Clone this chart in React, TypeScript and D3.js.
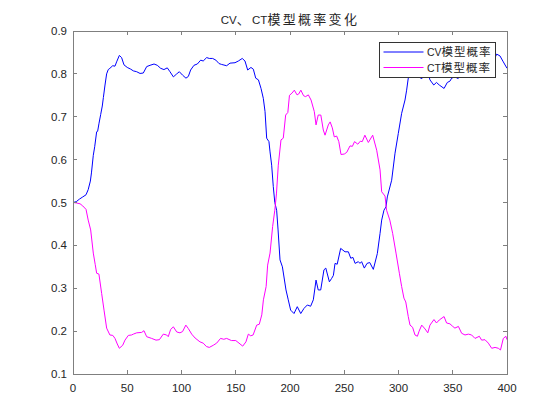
import React from "react";
import * as d3 from "d3";

const titleParts = [
  { t: "CV", cjk: false },
  { t: "、", cjk: true },
  { t: "CT", cjk: false },
  { t: "模型概率变化", cjk: true },
];
const seriesNames = ["CV模型概率", "CT模型概率"];
const seriesColors = ["#0000ff", "#ff00ff"];
const xTicks = [0, 50, 100, 150, 200, 250, 300, 350, 400];
const yTicks = [0.1, 0.2, 0.3, 0.4, 0.5, 0.6, 0.7, 0.8, 0.9];

const cvData: [number, number][] = [
  [0, 0.5], [3, 0.502], [6, 0.508], [9, 0.513], [12, 0.518], [14, 0.53], [16, 0.55], [17, 0.569],
  [18.7, 0.61], [20, 0.63], [21.8, 0.665], [22.7, 0.666], [24, 0.685], [25.5, 0.705], [27, 0.725],
  [28, 0.745], [29.5, 0.774], [31, 0.8], [32.5, 0.81], [34, 0.813], [36.6, 0.819], [38.7, 0.818],
  [40.2, 0.828], [42.7, 0.843], [44.8, 0.838], [47, 0.821], [50, 0.815], [53.2, 0.811], [55.6, 0.807],
  [58.7, 0.805], [61.8, 0.801], [64.8, 0.802], [67.9, 0.817], [71, 0.82], [74.7, 0.823], [77.7, 0.82],
  [80.8, 0.813], [83.8, 0.81], [86.9, 0.814], [89.4, 0.805], [92.5, 0.793], [95.6, 0.8], [98, 0.805],
  [101, 0.797], [104.1, 0.79], [106.3, 0.794], [108.4, 0.809], [111.5, 0.82], [114.6, 0.823],
  [117.7, 0.832], [120, 0.83], [123.2, 0.838], [125.6, 0.836], [128.7, 0.836], [131.7, 0.832],
  [134.6, 0.824], [137, 0.822], [141.6, 0.819], [144.7, 0.825], [149.3, 0.826], [152.4, 0.83],
  [156, 0.836], [158.5, 0.83], [161, 0.809], [164, 0.815], [166.2, 0.811], [168.4, 0.79],
  [170.9, 0.786], [173.3, 0.766], [175.4, 0.743], [177, 0.712], [178.5, 0.65], [180.6, 0.642],
  [181.6, 0.618], [183.1, 0.587], [184.6, 0.537], [186, 0.5], [187.7, 0.482], [189, 0.436],
  [190.8, 0.366], [193, 0.35], [196.3, 0.296], [198.4, 0.273], [200.6, 0.249], [203.7, 0.241],
  [206.7, 0.257], [209.9, 0.241], [212.9, 0.253], [216, 0.261], [219, 0.258], [221.5, 0.273],
  [224, 0.319], [226, 0.296], [228.3, 0.296], [231.3, 0.343], [233, 0.347], [236.3, 0.315],
  [238.4, 0.323], [240, 0.33], [241.5, 0.358], [243.5, 0.356], [246.7, 0.393], [250.7, 0.385],
  [253.8, 0.385], [256, 0.37], [258, 0.372], [260, 0.358], [263, 0.362], [264.5, 0.358], [266, 0.362],
  [268.5, 0.347], [271, 0.358], [273.5, 0.36], [276.8, 0.344], [280.5, 0.381], [283, 0.428],
  [284.5, 0.459], [286.6, 0.482], [288.5, 0.49], [289.7, 0.513], [293.7, 0.552], [296.8, 0.615],
  [299.8, 0.661], [302.9, 0.708], [306, 0.739], [307.5, 0.762], [309, 0.79], [312, 0.795],
  [315, 0.81], [317.4, 0.812], [319, 0.8], [321, 0.788], [324.4, 0.797], [327, 0.804], [329, 0.786],
  [332.5, 0.774], [335, 0.78], [337.6, 0.774], [342, 0.766], [345, 0.78], [347.4, 0.783], [349, 0.79],
  [352, 0.793], [355, 0.789], [358, 0.805], [361, 0.809], [364, 0.807], [367, 0.809], [370.5, 0.817],
  [374.5, 0.812], [376.6, 0.821], [379.7, 0.82], [382.8, 0.828], [385.9, 0.84], [389, 0.838],
  [390.5, 0.846], [393.5, 0.842], [396.6, 0.828], [400, 0.813],
];

const ctData: [number, number][] = [
  [0, 0.5], [3, 0.499], [6.5, 0.497], [9, 0.492], [12, 0.484], [14, 0.459], [16.3, 0.436],
  [18.7, 0.382], [20.5, 0.355], [21.8, 0.335], [23.9, 0.333], [26.4, 0.288], [28.6, 0.249], [31, 0.207],
  [34, 0.191], [36.7, 0.19], [38.7, 0.183], [40.8, 0.17], [42.7, 0.16], [45.8, 0.167], [47.9, 0.179],
  [51, 0.19], [54, 0.191], [55.6, 0.193], [58.7, 0.196], [63.3, 0.197], [65.4, 0.201], [67.9, 0.187],
  [72.5, 0.183], [76.5, 0.179], [79.6, 0.18], [83.2, 0.193], [86.3, 0.191], [87.8, 0.187], [90, 0.204],
  [92.5, 0.21], [95.6, 0.198], [98.6, 0.196], [101, 0.199], [104, 0.214], [106.3, 0.206], [109.4, 0.193],
  [112.5, 0.184], [117, 0.175], [120, 0.172], [123, 0.164], [125.6, 0.162], [129.3, 0.167],
  [132.4, 0.172], [136, 0.183], [139, 0.181], [141.6, 0.183], [146, 0.178], [150, 0.178], [153, 0.172],
  [156.4, 0.165], [159.4, 0.175], [161.6, 0.193], [163.8, 0.189], [166, 0.191], [169.3, 0.214],
  [171.7, 0.216], [174, 0.238], [175.5, 0.273], [178, 0.304], [179.4, 0.354], [181.6, 0.382],
  [184, 0.444], [186, 0.482], [187.5, 0.52], [189.2, 0.587], [191.7, 0.646], [193.8, 0.65], [196, 0.704],
  [198, 0.71], [199.5, 0.75], [201.8, 0.755], [204, 0.762], [206.5, 0.751], [208, 0.753], [210, 0.762],
  [212.5, 0.749], [214.4, 0.747], [216.9, 0.751], [219.4, 0.739], [222.4, 0.712], [224, 0.681],
  [226, 0.704], [228.4, 0.704], [230.7, 0.669], [232.3, 0.657], [235.3, 0.681], [237, 0.688],
  [239, 0.674], [240.8, 0.653], [243, 0.655], [245, 0.642], [247, 0.612], [250, 0.613], [252.3, 0.617],
  [255.3, 0.632], [257.5, 0.631], [259.5, 0.642], [262.5, 0.636], [264.8, 0.643], [266.6, 0.642],
  [269, 0.657], [272.2, 0.64], [276.2, 0.657], [279.9, 0.622], [283, 0.576], [284.5, 0.525],
  [287.6, 0.515], [289, 0.482], [292, 0.459], [294.6, 0.428], [297.7, 0.382], [300.8, 0.335],
  [302.9, 0.304], [305, 0.277], [306.7, 0.268], [309, 0.234], [310.6, 0.214], [313, 0.209],
  [315.2, 0.191], [317.4, 0.188], [319, 0.2], [321.4, 0.214], [324.5, 0.205], [327, 0.196], [329, 0.214],
  [332.7, 0.227], [335, 0.219], [337.6, 0.226], [342, 0.234], [344.3, 0.219], [347.4, 0.217],
  [350, 0.211], [352, 0.207], [355.2, 0.211], [358.2, 0.195], [361.3, 0.191], [364.4, 0.193],
  [367.4, 0.191], [370.5, 0.183], [374.5, 0.188], [376.6, 0.179], [379.7, 0.18], [382.8, 0.172],
  [385.9, 0.16], [389, 0.162], [392, 0.16], [394, 0.156], [396.6, 0.183], [399, 0.188], [400, 0.18],
];

const W = 560;
const H = 420;
const M = { left: 73, right: 507, top: 31, bottom: 374 };
const LATIN = "'Liberation Sans', Arial, Helvetica, sans-serif";
const CJK = "'Noto Sans CJK SC', 'Noto Sans', sans-serif";
const AXIS = "#7f7f7f";
const TEXT = "#262626";

export default function App() {
  const x = d3.scaleLinear().domain([0, 400]).range([M.left, M.right]);
  const y = d3.scaleLinear().domain([0.1, 0.9]).range([M.bottom, M.top]);
  const line = d3
    .line<[number, number]>()
    .x((d) => x(d[0]))
    .y((d) => y(d[1]));
  const series = [cvData, ctData];
  const tickLen = 4;

  const legX = 379.5;
  const legY = 42.5;
  const legW = 116;
  const legH = 35;

  return (
    <svg
      width={W}
      height={H}
      style={{ position: "absolute", left: 0, top: 0, background: "#fff" }}
    >
      <rect x={0} y={0} width={W} height={H} fill="#fff" />
      <defs>
        <clipPath id="plotclip">
          <rect x={M.left} y={M.top} width={M.right - M.left} height={M.bottom - M.top} />
        </clipPath>
      </defs>

      {/* data */}
      <g clipPath="url(#plotclip)">
        {series.map((s, i) => (
          <path
            key={i}
            d={line(s) || ""}
            fill="none"
            stroke={seriesColors[i]}
            strokeWidth={1}
            strokeLinejoin="round"
          />
        ))}
      </g>

      {/* axes box */}
      <rect
        x={M.left}
        y={M.top}
        width={M.right - M.left}
        height={M.bottom - M.top}
        fill="none"
        stroke={AXIS}
        strokeWidth={1}
        shapeRendering="crispEdges"
      />

      {/* ticks */}
      <g stroke={AXIS} strokeWidth={1} shapeRendering="crispEdges">
        {xTicks.map((t) => (
          <g key={"xt" + t}>
            <line x1={x(t)} x2={x(t)} y1={M.bottom} y2={M.bottom - tickLen} />
            <line x1={x(t)} x2={x(t)} y1={M.top} y2={M.top + tickLen} />
          </g>
        ))}
        {yTicks.map((t) => (
          <g key={"yt" + t}>
            <line x1={M.left} x2={M.left + tickLen} y1={y(t)} y2={y(t)} />
            <line x1={M.right} x2={M.right - tickLen} y1={y(t)} y2={y(t)} />
          </g>
        ))}
      </g>

      {/* tick labels */}
      <g fill={TEXT} fontFamily={LATIN} fontSize={11.5}>
        {xTicks.map((t) => (
          <text key={"xl" + t} x={x(t)} y={M.bottom + 18} textAnchor="middle">
            {String(t)}
          </text>
        ))}
        {yTicks.map((t) => (
          <text key={"yl" + t} x={M.left - 6} y={y(t) + 4} textAnchor="end">
            {t.toFixed(1)}
          </text>
        ))}
      </g>

      {/* title */}
      <text x={(M.left + M.right) / 2} y={24} textAnchor="middle" fill={TEXT}>
        {titleParts.map((p, i) => (
          <tspan
            key={i}
            fontFamily={p.cjk ? CJK : LATIN}
            fontSize={p.cjk ? 13 : 11.5}
            letterSpacing={p.cjk ? 2.3 : 0}
          >
            {p.t}
          </tspan>
        ))}
      </text>

      {/* legend */}
      <rect
        x={legX}
        y={legY}
        width={legW}
        height={legH}
        fill="#fff"
        stroke="#333"
        strokeWidth={1}
        shapeRendering="crispEdges"
      />
      {seriesNames.map((name, i) => {
        const cy = legY + 9.5 + i * 15.5;
        const latin = name.slice(0, 2);
        const cjk = name.slice(2);
        return (
          <g key={name}>
            <line
              x1={legX + 4}
              x2={legX + 44}
              y1={cy}
              y2={cy}
              stroke={seriesColors[i]}
              strokeWidth={1}
            />
            <text x={legX + 47.5} y={cy + 4} fill={TEXT}>
              <tspan fontFamily={LATIN} fontSize={10.5}>
                {latin}
              </tspan>
              <tspan fontFamily={CJK} fontSize={11.5} letterSpacing={1}>
                {cjk}
              </tspan>
            </text>
          </g>
        );
      })}
    </svg>
  );
}
